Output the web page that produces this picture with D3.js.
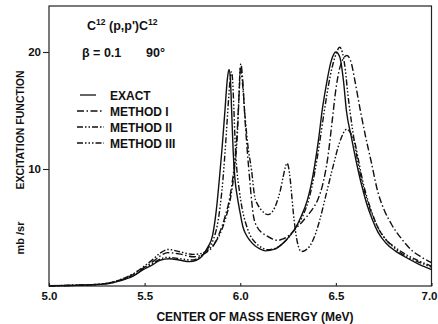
<!DOCTYPE html>
<html>
<head>
<meta charset="utf-8">
<script src="https://cdn.jsdelivr.net/npm/d3@7"></script>
<style>
  html, body { margin: 0; padding: 0; background: #fff; }
  svg { display: block; }
  text { font-family: "Liberation Sans", Arial, sans-serif; font-weight: bold; fill: #111; }
  .axis text { font-size: 11.5px; }
  .curve { fill: none; stroke: #111; stroke-width: 1.4; stroke-linejoin: round; }
</style>
</head>
<body>
<svg id="chart" width="438" height="324"></svg>
<script>
// --- data: [energy (MeV), mb/sr] ---
const exact = [
  [5.00,0.02],[5.10,0.04],[5.20,0.09],[5.27,0.14],[5.32,0.24],[5.36,0.4],[5.40,0.6],[5.44,0.85],
  [5.49,1.37],[5.545,1.85],[5.58,2.2],[5.63,2.33],[5.68,2.22],[5.735,2.08],[5.77,2.2],[5.80,2.55],
  [5.83,3.3],[5.855,4.3],[5.875,6.5],[5.89,9.0],[5.905,11.8],[5.92,15.0],[5.932,17.6],[5.941,18.5],
  [5.948,17.8],[5.955,15.0],[5.963,11.5],[5.972,9.2],[5.985,7.6],[6.00,6.2],[6.015,5.0],[6.03,4.4],
  [6.05,3.9],[6.08,3.4],[6.10,3.2],[6.13,3.0],[6.18,3.15],[6.22,3.6],[6.26,4.3],[6.29,5.0],
  [6.32,6.0],[6.35,7.3],[6.37,8.6],[6.39,10.4],[6.41,12.6],[6.43,15.2],[6.45,17.2],[6.475,19.2],
  [6.50,20.0],[6.52,19.6],[6.54,17.5],[6.555,15.0],[6.58,12.8],[6.607,10.6],[6.635,8.6],[6.66,7.1],
  [6.69,5.7],[6.72,4.6],[6.76,3.7],[6.81,3.0],[6.86,2.5],[6.93,1.9],[7.00,1.4]
];
const method1 = [
  [5.00,0.02],[5.10,0.04],[5.20,0.1],[5.27,0.16],[5.32,0.27],[5.36,0.45],[5.40,0.68],[5.44,0.98],
  [5.49,1.5],[5.545,2.1],[5.58,2.55],[5.62,2.85],[5.68,2.75],[5.754,2.5],[5.80,2.65],[5.83,2.95],
  [5.858,3.4],[5.893,4.6],[5.92,5.9],[5.95,8.0],[5.97,10.5],[5.985,13.5],[5.995,16.8],[6.003,19.0],
  [6.012,17.8],[6.025,14.2],[6.037,11.5],[6.05,9.0],[6.06,7.2],[6.07,5.9],[6.09,5.0],[6.11,4.6],
  [6.137,4.3],[6.17,4.0],[6.196,3.9],[6.22,4.0],[6.258,4.36],[6.29,4.9],[6.33,5.6],[6.37,6.4],
  [6.406,7.4],[6.43,8.6],[6.458,11.0],[6.48,14.0],[6.50,16.8],[6.525,18.9],[6.558,19.7],[6.58,19.1],
  [6.60,17.5],[6.628,15.0],[6.655,12.8],[6.685,10.6],[6.72,8.0],[6.75,6.6],[6.79,5.3],[6.85,3.9],
  [6.90,3.0],[6.95,2.45],[7.00,2.0]
];
const method2 = [
  [5.00,0.02],[5.10,0.05],[5.20,0.1],[5.27,0.17],[5.32,0.29],[5.36,0.48],[5.40,0.72],[5.44,1.05],
  [5.49,1.6],[5.545,2.3],[5.58,2.8],[5.623,3.12],[5.684,2.93],[5.754,2.7],[5.80,2.8],[5.83,3.05],
  [5.858,3.5],[5.893,4.4],[5.92,5.6],[5.95,7.6],[5.97,10.0],[5.985,13.0],[5.993,16.0],[6.0,18.7],
  [6.01,17.6],[6.025,14.5],[6.04,12.0],[6.059,9.9],[6.076,7.6],[6.09,7.0],[6.11,6.5],[6.145,6.1],
  [6.17,6.4],[6.19,7.1],[6.21,8.2],[6.224,9.3],[6.235,10.1],[6.244,10.5],[6.252,10.2],[6.262,9.0],
  [6.27,7.6],[6.278,6.2],[6.288,4.8],[6.302,3.5],[6.32,2.95],[6.34,3.05],[6.363,3.4],[6.39,4.3],
  [6.415,5.6],[6.45,7.9],[6.485,10.2],[6.52,12.3],[6.557,13.4],[6.58,13.0],[6.60,12.2],[6.62,10.6],
  [6.64,9.0],[6.666,7.4],[6.69,6.2],[6.72,5.0],[6.76,4.0],[6.81,3.3],[6.87,2.65],[6.94,2.1],[7.00,1.7]
];
const method3 = [
  [5.00,0.02],[5.10,0.04],[5.20,0.09],[5.27,0.15],[5.32,0.25],[5.36,0.42],[5.40,0.63],[5.44,0.9],
  [5.49,1.42],[5.545,1.95],[5.58,2.3],[5.62,2.45],[5.68,2.35],[5.74,2.22],[5.77,2.3],[5.80,2.65],
  [5.83,3.2],[5.86,4.0],[5.88,5.2],[5.895,6.8],[5.91,9.2],[5.925,12.5],[5.94,16.2],[5.948,17.8],
  [5.954,18.3],[5.96,17.6],[5.967,15.0],[5.974,12.0],[5.982,10.0],[5.995,8.2],[6.01,6.6],[6.03,5.3],
  [6.05,4.4],[6.08,3.7],[6.11,3.3],[6.14,3.1],[6.18,3.2],[6.22,3.6],[6.26,4.3],[6.29,5.0],
  [6.33,6.1],[6.36,7.5],[6.38,8.9],[6.40,10.7],[6.42,12.8],[6.44,15.0],[6.47,17.9],[6.50,19.8],
  [6.52,20.4],[6.535,19.9],[6.55,18.4],[6.562,16.5],[6.575,14.8],[6.60,12.0],[6.63,9.4],[6.66,7.5],
  [6.69,6.1],[6.72,5.0],[6.76,4.0],[6.81,3.2],[6.87,2.5],[6.94,2.0],[7.00,1.6]
];

const seriesNames = ['EXACT', 'METHOD I', 'METHOD II', 'METHOD III'];
const xTicks = [5.0, 5.5, 6.0, 6.5, 7.0];
const yTicks = [10, 20];

(function(){
  // layout
  const m = { left: 49, right: 431.5, top: 6, bottom: 286 };
  const dashes = ['none', '7,2.5,1.5,2.5', '6,2,1.5,2,1.5,2', '6,2,1.5,2,1.5,2,1.5,2'];
  const series = [exact, method1, method2, method3];

  const svg = d3.select('#chart');

  const x = d3.scaleLinear().domain([5, 7]).range([m.left, m.right]);
  // 10 mb/sr = 117 px on the original
  const y = d3.scaleLinear().domain([0, (m.bottom - m.top) / 11.7]).range([m.bottom, m.top]);

  // frame
  svg.append('rect')
    .attr('x', m.left).attr('y', m.top)
    .attr('width', m.right - m.left).attr('height', m.bottom - m.top)
    .attr('fill', 'none').attr('stroke', '#222').attr('stroke-width', 1.2);

  // axes
  const gx = svg.append('g').attr('class', 'axis')
    .attr('transform', `translate(0,${m.bottom})`)
    .call(d3.axisBottom(x).tickValues(xTicks).tickFormat(d3.format('.1f'))
      .tickSizeInner(-3).tickSizeOuter(0).tickPadding(6));
  const gy = svg.append('g').attr('class', 'axis')
    .attr('transform', `translate(${m.left},0)`)
    .call(d3.axisLeft(y).tickValues(yTicks).tickSize(6).tickPadding(2));
  [gx, gy].forEach(g => {
    g.select('.domain').remove();
    g.selectAll('line').attr('stroke', '#222').attr('stroke-width', 1.1);
    g.selectAll('text').attr('fill', '#111');
  });
  // last label sits at the page edge: keep it inside
  gx.selectAll('.tick').filter(d => d === 7).select('text')
    .attr('text-anchor', 'end').attr('x', 437 - m.right);

  // curves
  const line = d3.line().x(d => x(d[0])).y(d => y(d[1])).curve(d3.curveMonotoneX);
  svg.append('g').selectAll('path').data(series).join('path')
    .attr('class', 'curve')
    .attr('d', line)
    .attr('stroke-dasharray', (d, i) => dashes[i])
    .attr('stroke-width', (d, i) => i === 0 ? 1.5 : 1.3);

  // title block
  const title = svg.append('text').attr('x', 87).attr('y', 30).style('font-size', '12.5px');
  title.append('tspan').text('C');
  title.append('tspan').text('12').attr('dy', -5).style('font-size', '8.5px');
  title.append('tspan').text(" (p,p')C").attr('dy', 5);
  title.append('tspan').text('12').attr('dy', -5).style('font-size', '8.5px');

  svg.append('text').attr('x', 82).attr('y', 57).style('font-size', '12.5px')
    .text('β = 0.1');
  svg.append('text').attr('x', 146).attr('y', 57).style('font-size', '12.5px')
    .text('90°');

  // legend
  const leg = svg.append('g');
  seriesNames.forEach((name, i) => {
    const cy = 95 + i * 16;
    leg.append('line')
      .attr('x1', i === 0 ? 80 : 77).attr('x2', i === 0 ? 96 : 104)
      .attr('y1', cy).attr('y2', cy)
      .attr('stroke', '#111').attr('stroke-width', 1.3)
      .attr('stroke-dasharray', dashes[i]);
    leg.append('text').attr('x', 110).attr('y', cy + 4.5)
      .style('font-size', '12px').text(name);
  });

  // axis titles
  svg.append('text').attr('x', 255).attr('y', 321)
    .attr('text-anchor', 'middle').style('font-size', '12px')
    .text('CENTER OF MASS ENERGY (MeV)');
  svg.append('text')
    .attr('transform', 'translate(24,130) rotate(-90)')
    .attr('text-anchor', 'middle').style('font-size', '10.5px')
    .text('EXCITATION FUNCTION');
  svg.append('text')
    .attr('transform', 'translate(24,238) rotate(-90)')
    .attr('text-anchor', 'middle').style('font-size', '11px')
    .text('mb /sr');
})();
</script>
</body>
</html>
